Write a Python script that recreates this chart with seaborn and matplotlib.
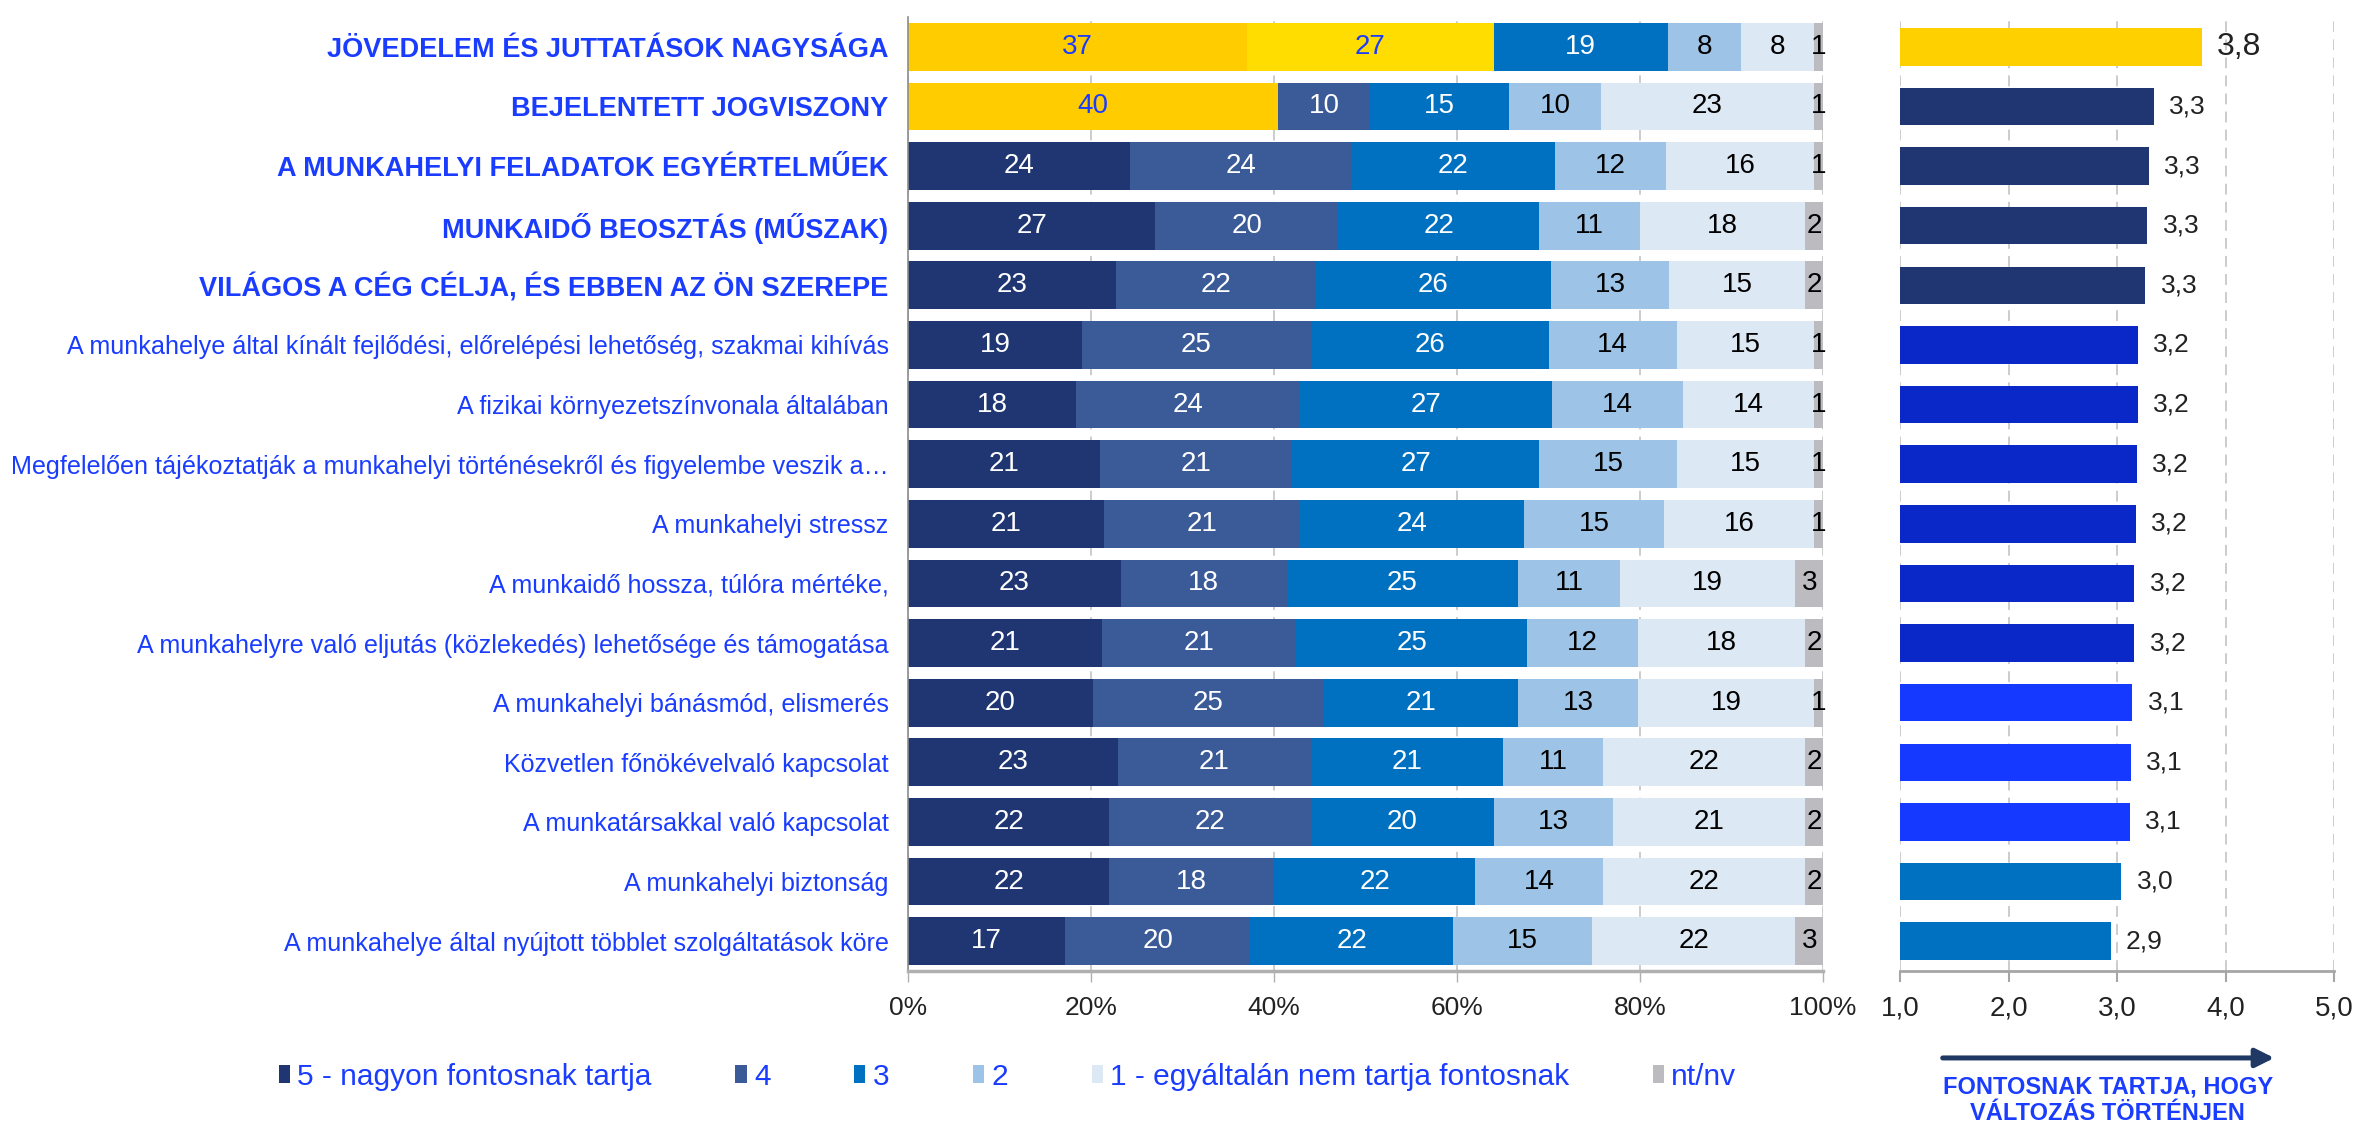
import numpy as np
import pandas as pd
import matplotlib
matplotlib.use('Agg')
import matplotlib.pyplot as plt
from matplotlib.patches import Patch, FancyArrowPatch
import seaborn as sns

# categories (top to bottom)
cats = [
    'JÖVEDELEM ÉS JUTTATÁSOK NAGYSÁGA',
    'BEJELENTETT JOGVISZONY',
    'A MUNKAHELYI FELADATOK EGYÉRTELMŰEK',
    'MUNKAIDŐ BEOSZTÁS (MŰSZAK)',
    'VILÁGOS A CÉG CÉLJA, ÉS EBBEN AZ ÖN SZEREPE',
    'A munkahelye által kínált fejlődési, előrelépési lehetőség, szakmai kihívás',
    'A fizikai környezetszínvonala általában',
    'Megfelelően tájékoztatják a munkahelyi történésekről és figyelembe veszik a…',
    'A munkahelyi stressz',
    'A munkaidő hossza, túlóra mértéke,',
    'A munkahelyre való eljutás (közlekedés) lehetősége és támogatása',
    'A munkahelyi bánásmód, elismerés',
    'Közvetlen főnökévelvaló kapcsolat',
    'A munkatársakkal való kapcsolat',
    'A munkahelyi biztonság',
    'A munkahelye által nyújtott többlet szolgáltatások köre',
]
n_bold = 5

# answer shares (%)
v5 = [37, 40, 24, 27, 23, 19, 18, 21, 21, 23, 21, 20, 23, 22, 22, 17]
v4 = [27, 10, 24, 20, 22, 25, 24, 21, 21, 18, 21, 25, 21, 22, 18, 20]
v3 = [19, 15, 22, 22, 26, 26, 27, 27, 24, 25, 25, 21, 21, 20, 22, 22]
v2 = [8, 10, 12, 11, 13, 14, 14, 15, 15, 11, 12, 13, 11, 13, 14, 15]
v1 = [8, 23, 16, 18, 15, 15, 14, 15, 16, 19, 18, 19, 22, 21, 22, 22]
vnt = [1, 1, 1, 2, 2, 1, 1, 1, 1, 3, 2, 1, 2, 2, 2, 3]

# mean scores (1-5)
means = [3.78, 3.34, 3.29, 3.28, 3.26, 3.19, 3.19, 3.18, 3.17, 3.16,
         3.16, 3.14, 3.13, 3.12, 3.04, 2.94]

seg_names = ['5 - nagyon fontosnak tartja', '4', '3', '2',
             '1 - egyáltalán nem tartja fontosnak', 'nt/nv']
seg_colors = ['#1F3672', '#3A5A98', '#0070C0', '#9DC3E6', '#DDE8F5', '#BCBCC0']
seg_text = ['white', 'white', 'white', 'black', 'black', 'black']
highlight = {(0, 0): '#FFCC00', (0, 1): '#FFDD00', (1, 0): '#FFCC00'}
mean_colors = ['#FFD000'] + ['#1F3672'] * 4 + ['#0A28C8'] * 6 + ['#1539FF'] * 3 + ['#0070C0'] * 2

blue = '#1a3cff'

sns.set_theme(style='white')
plt.rcParams['font.family'] = ['Liberation Sans', 'DejaVu Sans']

fig = plt.figure(figsize=(23.56, 11.25), dpi=100)
ax = fig.add_axes([0.3854, 0.1369, 0.3884, 0.848])
ax2 = fig.add_axes([0.8065, 0.1369, 0.1842, 0.848])

segs = np.array([v5, v4, v3, v2, v1, vnt], dtype=float)
# 100% stacked: scale every row to a full bar
shares = segs / segs.sum(axis=0) * 100
cum = shares.cumsum(axis=0)

# stacked bars: draw cumulative totals from largest to smallest
for k in range(len(segs) - 1, -1, -1):
    cols = [highlight.get((i, k), seg_colors[k]) for i in range(len(cats))]
    df = pd.DataFrame({'cat': cats, 'val': cum[k]})
    sns.barplot(data=df, x='val', y='cat', hue='cat', order=cats, hue_order=cats,
                palette=dict(zip(cats, cols)), orient='h', width=0.8,
                saturation=1, legend=False, linewidth=0, ax=ax)

for i in range(len(cats)):
    for k in range(len(segs)):
        start = cum[k, i] - shares[k, i]
        c = blue if (i, k) in highlight else seg_text[k]
        ax.text(start + shares[k, i] / 2, i, f'{int(segs[k, i])}', ha='center',
                va='center', fontsize=20, color=c)

ax.set_xlim(0, 100)
ax.set_ylim(len(cats) - 0.5, -0.5)
ax.set_xticks(range(0, 101, 20))
ax.set_xticklabels([f'{t}%' for t in range(0, 101, 20)], fontsize=19, color='#222222')
ax.set_xlabel('')
ax.set_ylabel('')
ax.set_yticks(range(len(cats)))
ax.set_yticklabels(cats, fontsize=18.1, color=blue)
for i, lbl in enumerate(ax.get_yticklabels()):
    if i < n_bold:
        lbl.set_fontweight('bold')
        lbl.set_fontsize(19.5)
ax.set_yticks(np.arange(-0.5, len(cats), 1), minor=True)
ax.tick_params(axis='y', which='major', length=0, pad=14)
ax.tick_params(axis='y', which='minor', length=7, width=1.2, color='#8c8c8c', direction='out')
ax.tick_params(axis='x', which='major', length=8, width=1, color='#b0b0b0',
               direction='out', pad=10, bottom=True)
ax.grid(axis='x', color='#c8c8c8', linestyle=(0, (6, 4)), linewidth=1.3)
ax.set_axisbelow(True)
for s in ['top', 'right']:
    ax.spines[s].set_visible(False)
ax.spines['left'].set_color('#8c8c8c')
ax.spines['left'].set_linewidth(1.2)
ax.spines['bottom'].set_color('#b0b0b0')
ax.spines['bottom'].set_linewidth(2.5)

# mean score panel
dfm = pd.DataFrame({'cat': cats, 'mean': means})
sns.barplot(data=dfm, x='mean', y='cat', hue='cat', order=cats, hue_order=cats,
            palette=dict(zip(cats, mean_colors)), orient='h', width=0.63,
            saturation=1, legend=False, linewidth=0, ax=ax2)
for i, m in enumerate(means):
    ax2.annotate(f'{m:.1f}'.replace('.', ','), (m, i), xytext=(11, 0),
                 textcoords='offset points', ha='left', va='center',
                 fontsize=23 if i == 0 else 19, color='#222222')
ax2.set_xlim(1, 5)
ax2.set_ylim(len(cats) - 0.5, -0.5)
ax2.set_xticks([1, 2, 3, 4, 5])
ax2.set_xticklabels(['1,0', '2,0', '3,0', '4,0', '5,0'], fontsize=20, color='#222222')
ax2.set_yticks([])
ax2.set_xlabel('')
ax2.set_ylabel('')
ax2.tick_params(axis='x', length=8, width=1.5, color='#a6a6a6', direction='out',
                pad=10, bottom=True)
ax2.grid(axis='x', color='#c8c8c8', linestyle=(0, (6, 4)), linewidth=1.3)
ax2.set_axisbelow(True)
for s in ['top', 'right', 'left']:
    ax2.spines[s].set_visible(False)
ax2.spines['bottom'].set_color('#a6a6a6')
ax2.spines['bottom'].set_linewidth(2)

# legend
handles = [Patch(facecolor=c, edgecolor='none') for c in seg_colors]
fig.legend(handles, seg_names, loc='center left', bbox_to_anchor=(0.107, 0.043),
           ncol=6, frameon=False, fontsize=21.5, handlelength=0.37, handleheight=0.57,
           handletextpad=0.25, columnspacing=2.8, labelcolor=blue)

# arrow + note under the mean panel
fig.patches.append(FancyArrowPatch(
    (0.8234, 0.0596), (0.9665, 0.0596), transform=fig.transFigure,
    arrowstyle='-|>', mutation_scale=28, linewidth=3.6, color='#1F3864'))
fig.text(0.8947, 0.0340, 'FONTOSNAK TARTJA, HOGY', ha='center', va='center',
         fontsize=17, fontweight='bold', color=blue)
fig.text(0.8947, 0.0100, 'VÁLTOZÁS TÖRTÉNJEN', ha='center', va='center',
         fontsize=17, fontweight='bold', color=blue)

fig.savefig('out.png', dpi=100)
